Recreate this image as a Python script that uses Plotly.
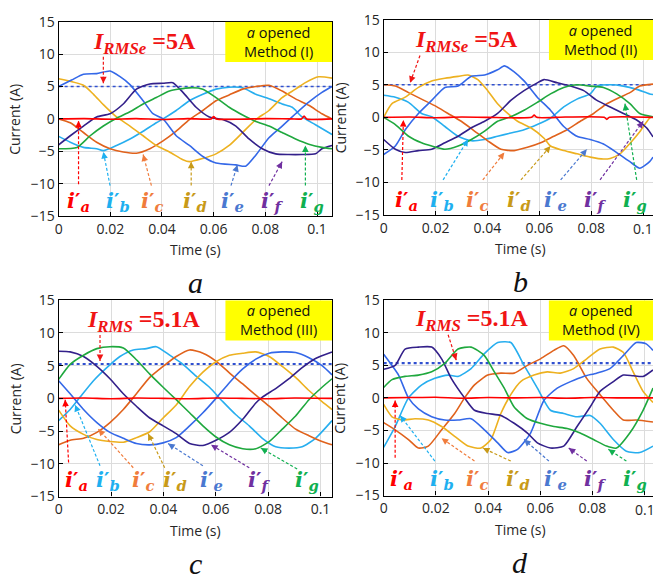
import plotly.graph_objects as go

W, H = 653, 581

# ---------------- data (time in ms, current in A) ----------------
# Panel a  (Method I, I_RMSe = 5 A)
a_t_ia = [0, 10, 20, 30, 40, 50, 59, 60, 61, 70, 80, 90, 94, 95, 96, 105.8]
a_ia   = [0, 0.05, -0.05, 0.05, -0.1, 0.05, 0, 0.35, 0, -0.05, 0.05, 0, 0, 0.45, 0, 0]
a_t_ib = [0, 4.5, 9.6, 14.7, 17.3, 22.4, 27.6, 32.7, 37.8, 40.4, 45.5, 50.6, 55.8, 60.9, 66.0, 71.2, 76.3, 81.4, 86.5, 90.4, 94.2, 99.4, 105.8]
a_ib   = [-2.7, -3.6, -4.4, -4.6, -4.9, -4.1, -3.1, -1.9, -0.6, 0, 1.3, 2.8, 3.8, 4.6, 4.9, 4.8, 3.8, 3.1, 2.3, 1.8, 0.3, -0.9, -2.4]
a_t_ic = [0, 4.5, 9.6, 14.7, 19.9, 25.0, 30.1, 35.3, 40.4, 45.5, 50.6, 55.8, 60.9, 66.0, 71.2, 76.3, 81.4, 86.5, 91.7, 96.8, 101.9, 105.8]
a_ic   = [0, -0.6, -2.1, -3.6, -4.6, -5.1, -5.3, -4.6, -3.4, -1.9, -0.1, 1.3, 2.8, 3.7, 4.6, 5.0, 5.2, 4.3, 3.1, 2.1, 0.8, 0]
a_t_id = [0, 9.6, 13.5, 17.3, 22.4, 27.6, 32.7, 37.8, 42.9, 48.1, 50.6, 55.8, 60.9, 66.0, 71.2, 76.3, 81.4, 86.5, 91.7, 95.5, 100.6, 105.8]
a_id   = [6.2, 5.2, 3.8, 2.2, 0.3, -1.1, -2.6, -4.1, -5.1, -6.3, -6.6, -6.1, -5.4, -4.1, -2.1, -0.1, 1.3, 3.3, 4.6, 5.6, 6.5, 6.3]
a_t_ie = [0, 5.0, 9.6, 14.7, 19.9, 23.5, 27.6, 32.7, 36.5, 40.4, 45.5, 50.6, 55.8, 60.9, 68.6, 72.4, 76.3, 81.4, 86.5, 91.7, 96.8, 101.9, 105.8]
a_ie   = [5.0, 6.0, 6.9, 7.0, 7.4, 6.6, 5.3, 2.8, 0.8, 0, -2.6, -4.1, -5.8, -6.8, -7.1, -7.3, -5.6, -2.9, -1.1, 0.8, 2.6, 4.1, 5.0]
a_t_if = [0, 4.5, 9.6, 14.7, 19.9, 25.0, 30.1, 35.3, 40.4, 44.2, 48.1, 53.2, 58.3, 63.5, 68.6, 73.7, 78.8, 84.0, 89.1, 94.2, 99.4, 101.9, 105.8]
a_if   = [-4.0, -2.6, -1.1, 0.3, 0.8, 2.3, 4.6, 5.4, 5.5, 5.6, 4.1, 1.8, 0.3, -0.1, -1.1, -3.1, -4.6, -5.4, -5.5, -5.5, -5.4, -4.6, -4.1]
a_t_ig = [0, 7.1, 12.2, 17.3, 22.4, 27.6, 32.7, 37.8, 42.9, 50.6, 55.8, 60.9, 66.0, 71.2, 76.3, 81.4, 86.5, 91.7, 96.8, 101.9, 105.8]
a_ig   = [-4.6, -4.4, -2.6, -1.1, 0.1, 1.1, 2.3, 3.3, 4.3, 4.8, 4.6, 3.3, 1.8, 0.6, -0.4, -1.1, -2.1, -3.1, -3.9, -4.4, -4.6]

# Panel b  (Method II, I_RMSe = 5 A)
b_t_ia = [0, 10, 20, 30, 40, 57, 58, 59, 70, 85, 86, 87, 103.8]
b_ia   = [0, 0.05, -0.05, 0.05, 0, 0, 0.35, 0, 0.05, 0, -0.3, 0, 0]
b_t_ib = [0, 4.5, 9.6, 14.6, 18.5, 23.6, 28.7, 33.8, 38.9, 43.9, 49.0, 54.1, 59.2, 64.3, 69.4, 74.5, 79.6, 82.2, 87.3, 92.4, 97.5, 102.5, 103.8]
b_ib   = [3.4, 3.1, 2.3, 0.6, 0.1, -1.4, -2.9, -3.6, -3.4, -2.9, -2.4, -1.9, -1.1, -0.1, 1.6, 2.8, 3.6, 4.8, 5.0, 4.8, 4.3, 3.6, 3.5]
b_t_ic = [0, 4.5, 9.6, 14.6, 19.7, 24.8, 29.9, 35.0, 40.1, 45.2, 50.3, 55.4, 60.5, 65.6, 70.7, 75.8, 80.9, 86.0, 91.1, 94.9, 98.7, 103.8]
b_ic   = [5.0, 4.8, 3.8, 2.8, 1.8, 0.6, -0.6, -2.1, -3.6, -4.9, -5.1, -4.6, -3.9, -2.9, -1.9, -0.6, 0.6, 2.1, 3.1, 3.8, 4.8, 5.1]
b_t_id = [0, 3.2, 8.3, 13.4, 18.5, 23.6, 28.7, 32.5, 36.3, 40.1, 43.9, 47.8, 51.6, 56.7, 61.8, 64.3, 69.4, 74.5, 79.6, 84.7, 87.3, 91.1, 94.9, 98.7, 102.5, 103.8]
b_id   = [0, 2.1, 3.1, 4.6, 5.6, 6.0, 6.3, 6.5, 5.8, 4.1, 2.1, 0.6, -0.6, -1.6, -3.2, -4.4, -5.1, -5.6, -6.1, -6.4, -6.3, -5.6, -4.0, -2.2, -0.1, 0.1]
b_t_ie = [0, 4.5, 8.3, 13.4, 18.5, 23.6, 28.7, 33.8, 38.9, 43.9, 46.5, 50.3, 54.1, 59.2, 64.3, 69.4, 74.5, 79.6, 84.7, 89.8, 94.9, 98.7, 102.5, 103.8]
b_ie   = [-5.7, -4.4, -1.9, 0.6, 2.6, 4.6, 4.8, 6.3, 6.5, 7.3, 7.9, 7.0, 5.6, 3.1, 1.1, -1.4, -2.9, -3.4, -4.1, -5.4, -6.8, -7.8, -6.8, -6.1]
b_t_if = [0, 4.5, 8.3, 13.4, 18.5, 23.6, 28.7, 33.8, 38.9, 43.9, 49.0, 54.1, 59.2, 61.8, 66.9, 72.0, 77.1, 82.2, 87.3, 92.4, 97.5, 101.3, 103.8]
b_if   = [-3.4, -4.9, -5.4, -5.1, -4.9, -3.9, -2.9, -1.6, -0.6, 0.6, 2.6, 4.1, 5.3, 5.8, 5.3, 4.8, 4.1, 2.6, 1.6, 0.6, -0.4, -1.6, -3.0]
b_t_ig = [0, 4.5, 9.6, 14.6, 18.5, 23.6, 28.7, 33.8, 38.9, 43.9, 49.0, 54.1, 59.2, 64.3, 69.4, 74.5, 79.6, 84.7, 89.8, 94.9, 98.7, 103.8]
b_ig   = [0, -1.1, -2.9, -3.9, -4.4, -4.9, -4.4, -3.4, -2.1, -0.6, 0.1, 1.1, 2.3, 3.6, 4.6, 5.0, 4.8, 4.6, 3.6, 2.1, 0.6, 0.1]

# Panel c  (Method III, I_RMS = 5.1 A)
c_t_ia = [0, 10, 20, 30, 40, 50, 60, 70, 80, 90, 104.4]
c_ia   = [0, 0.05, -0.05, 0.05, 0, -0.05, 0.05, 0, -0.05, 0.05, 0]
c_t_ib = [0, 4.4, 8.2, 13.3, 18.4, 23.4, 28.5, 33.5, 37.3, 42.4, 47.5, 52.5, 57.6, 62.7, 67.7, 72.8, 77.8, 82.9, 88.0, 93.0, 98.1, 104.4]
c_ib   = [-3.4, -1.7, 0.2, 2.7, 4.7, 6.4, 7.4, 7.6, 7.9, 6.6, 5.2, 3.4, 1.7, -0.5, -2.5, -4.2, -6.1, -7.4, -7.6, -7.4, -6.1, -3.4]
c_t_ic = [0, 4.4, 9.5, 14.6, 19.6, 24.7, 29.7, 34.8, 39.9, 44.9, 50.0, 55.1, 60.1, 65.2, 70.3, 75.3, 80.4, 85.4, 90.5, 95.6, 100.6, 104.4]
c_ic   = [-7.1, -6.4, -6.1, -5.2, -3.7, -1.7, 0.7, 3.2, 4.9, 6.4, 7.4, 6.9, 5.7, 3.9, 2.2, 0.5, -1.2, -3.0, -4.7, -5.7, -6.6, -7.1]
c_t_id = [0, 4.4, 9.5, 14.6, 19.6, 24.7, 29.7, 34.8, 39.9, 44.9, 50.0, 55.1, 60.1, 65.2, 70.3, 75.3, 80.4, 85.4, 90.5, 95.6, 100.6, 104.4]
c_id   = [-1.8, -4.2, -5.5, -6.3, -6.6, -6.7, -6.0, -5.1, -3.0, -1.0, 1.8, 4.0, 5.6, 6.6, 6.9, 7.1, 6.4, 4.9, 3.2, 1.2, -0.5, -1.7]
c_t_ie = [0, 4.4, 9.5, 14.6, 19.6, 24.7, 29.7, 34.8, 39.9, 44.9, 50.0, 55.1, 60.1, 65.2, 70.3, 75.3, 80.4, 85.4, 90.5, 95.6, 100.6, 104.4]
c_ie   = [2.7, 0.7, -1.7, -3.7, -5.2, -6.1, -6.9, -7.1, -6.8, -6.0, -4.2, -2.2, 0, 2.4, 4.5, 6.0, 6.9, 7.1, 7.0, 6.2, 5.0, 3.6]
c_t_if = [0, 4.4, 9.5, 14.6, 19.6, 24.7, 29.7, 34.8, 39.9, 44.9, 50.0, 55.1, 60.1, 65.2, 70.3, 75.3, 77.8, 82.9, 88.0, 93.0, 98.1, 104.4]
c_if   = [7.2, 7.1, 6.4, 4.9, 3.0, 0.7, -1.2, -3.0, -4.2, -5.4, -6.9, -7.2, -6.4, -5.2, -3.2, -0.7, 0.2, 1.5, 3.0, 4.7, 6.1, 7.1]
c_t_ig = [0, 4.4, 9.5, 14.6, 19.6, 24.7, 29.7, 34.8, 39.9, 44.9, 50.0, 55.1, 60.1, 65.2, 70.3, 75.3, 80.4, 85.4, 90.5, 95.6, 100.6, 104.4]
c_ig   = [2.9, 5.2, 6.6, 7.6, 7.9, 7.7, 5.9, 3.7, 1.7, -0.2, -2.2, -4.2, -5.9, -7.1, -7.7, -7.7, -6.6, -4.7, -2.7, -0.2, 1.7, 3.0]

# Panel d  (Method IV, I_RMS = 5.1 A)
d_t_ia = [0, 10, 20, 30, 40, 50, 60, 70, 80, 90, 103.2]
d_ia   = [0, 0.05, 0.1, -0.05, 0.05, 0, 0.05, -0.05, 0.05, 0, 0]
d_t_ib = [0, 4.4, 9.5, 14.6, 19.6, 24.7, 28.5, 33.5, 38.6, 43.7, 48.7, 53.8, 58.9, 63.9, 69.0, 74.1, 79.1, 82.9, 88.0, 93.0, 98.1, 103.2]
d_ib   = [-7.6, -4.4, 0, 2.0, 3.0, 3.5, 3.3, 4.5, 6.8, 8.5, 8.5, 5.0, 1.5, -1.9, -2.4, -2.9, -2.7, -3.9, -6.4, -8.2, -8.4, -7.4]
d_t_ic = [0, 4.4, 9.5, 13.3, 17.1, 22.2, 27.2, 31.0, 34.8, 39.9, 44.9, 50.0, 55.1, 60.1, 65.2, 69.0, 72.8, 77.8, 82.9, 88.0, 91.8, 96.8, 103.2]
d_ic   = [-3.8, -4.9, -6.4, -7.7, -7.4, -4.9, -2.4, 0, 2.0, 3.5, 3.8, 3.8, 5.0, 6.0, 7.3, 8.0, 6.5, 3.0, 0.5, -1.9, -3.4, -3.4, -3.7]
d_t_id = [0, 3.2, 7.0, 12.0, 17.1, 22.2, 27.2, 32.3, 37.3, 41.1, 44.9, 48.7, 52.5, 57.6, 62.7, 67.7, 72.8, 77.8, 82.9, 88.0, 91.8, 95.6, 99.4, 103.2]
d_id   = [-1.0, -2.9, -3.4, -3.2, -3.4, -4.4, -5.9, -7.4, -7.7, -6.4, -2.4, 0.5, 2.5, 3.5, 4.0, 3.8, 4.5, 6.0, 7.5, 7.8, 7.0, 4.0, 1.0, -0.7]
d_t_ie = [0, 5.7, 9.5, 13.3, 18.4, 23.4, 28.5, 33.5, 38.6, 43.7, 47.5, 51.3, 56.3, 61.4, 66.5, 71.6, 76.6, 81.6, 86.7, 91.8, 96.8, 100.6, 103.2]
d_ie   = [6.7, 3.5, 0, -1.7, -2.9, -3.4, -3.4, -3.2, -4.9, -6.9, -8.4, -7.9, -5.4, -0.4, 1.5, 2.5, 3.3, 3.8, 4.5, 6.5, 8.5, 8.3, 7.3]
d_t_if = [0, 4.4, 8.2, 13.3, 18.4, 22.2, 25.9, 31.0, 34.8, 39.9, 44.9, 50.0, 55.1, 58.9, 63.9, 69.0, 74.1, 79.1, 82.9, 88.0, 91.8, 95.6, 99.4, 103.2]
d_if   = [4.4, 5.0, 7.5, 7.8, 7.8, 6.0, 3.0, 0, -1.9, -2.4, -2.7, -3.9, -5.4, -6.9, -7.7, -7.4, -4.4, -1.4, 1.0, 2.5, 3.5, 3.4, 3.3, 4.3]
d_t_ig = [0, 3.2, 8.2, 13.3, 18.4, 23.4, 28.5, 33.5, 38.6, 42.4, 46.2, 50.0, 55.1, 60.1, 65.2, 70.3, 75.3, 80.4, 85.4, 89.2, 94.3, 99.4, 103.2]
d_ig   = [1.6, 2.8, 3.3, 3.5, 4.0, 5.3, 7.5, 7.8, 6.5, 4.0, 1.5, -1.4, -3.2, -3.9, -4.4, -4.7, -5.4, -6.4, -7.4, -7.7, -5.4, -1.9, 1.5]

rms_text = ["<b><i>I</i><sub><i>RMSe</i></sub> =5A</b>", "<b><i>I</i><sub><i>RMSe</i></sub> =5A</b>",
            "<b><i>I</i><sub><i>RMS</i></sub> =5.1A</b>", "<b><i>I</i><sub><i>RMS</i></sub> =5.1A</b>"]
rms_line = [5.0, 5.0, 5.25, 5.35]
method_text = ["Method (I)", "Method (II)", "Method (III)", "Method (IV)"]
panel_letters = ["a", "b", "c", "d"]
x_ticks = [0, 0.02, 0.04, 0.06, 0.08, 0.1]
x_tick_text = ["0", "0.02", "0.04", "0.06", "0.08", "0.1"]
y_ticks = [-15, -10, -5, 0, 5, 10, 15]
phases = ["a", "b", "c", "d", "e", "f", "g"]

panel_data = [
    [(a_t_ia, a_ia), (a_t_ib, a_ib), (a_t_ic, a_ic), (a_t_id, a_id), (a_t_ie, a_ie), (a_t_if, a_if), (a_t_ig, a_ig)],
    [(b_t_ia, b_ia), (b_t_ib, b_ib), (b_t_ic, b_ic), (b_t_id, b_id), (b_t_ie, b_ie), (b_t_if, b_if), (b_t_ig, b_ig)],
    [(c_t_ia, c_ia), (c_t_ib, c_ib), (c_t_ic, c_ic), (c_t_id, c_id), (c_t_ie, c_ie), (c_t_if, c_if), (c_t_ig, c_ig)],
    [(d_t_ia, d_ia), (d_t_ib, d_ib), (d_t_ic, d_ic), (d_t_id, d_id), (d_t_ie, d_ie), (d_t_if, d_if), (d_t_ig, d_ig)],
]

# ---------------- styling / layout ----------------
line_colors = ["#FF0000", "#27AEEF", "#E0621C", "#EDB120", "#3468E8", "#33208A", "#1FA83E"]
label_colors = ["#FF0000", "#1EB0F0", "#F07C3C", "#C89A18", "#4A78D0", "#7030A0", "#10B050"]
draw_order = [1, 2, 3, 4, 5, 6, 0]

dom_x = [(0.0842, 0.5054), (0.585, 1.0), (0.0842, 0.5054), (0.585, 1.0)]
dom_y = [(0.6334, 0.979), (0.6351, 0.9828), (0.1343, 0.4836), (0.136, 0.4836)]
x_rng = [(0, 0.1058), (0, 0.1038), (0, 0.1044), (0, 0.1032)]
panel_w = 0.4212

# annotation placements (data coords, per panel)
title_pos = [(0.0333, 11.75), (0.0318, 11.75), (0.0323, 11.8), (0.0335, 12.0)]
title_arrow = [((0.0173, 9.6), (0.0173, 5.5)), ((0.0140, 9.5), (0.0102, 5.3)),
               ((0.0158, 9.7), (0.0158, 5.7)), ((0.0247, 9.7), (0.0278, 5.8))]
box_rng = [(0.0645, 0.1058, 8.8, 15), (0.0637, 0.1038, 8.8, 15), (0.0637, 0.1044, 8.85, 15), (0.0633, 0.1032, 8.8, 15)]
label_x = [[0.0077, 0.0231, 0.0365, 0.0526, 0.0673, 0.0827, 0.0980],
           [0.0089, 0.0223, 0.0363, 0.0522, 0.0662, 0.0815, 0.0968],
           [0.0070, 0.0190, 0.0323, 0.0443, 0.0582, 0.0766, 0.0949],
           [0.0070, 0.0222, 0.0361, 0.0513, 0.0658, 0.0810, 0.0962]]
label_y = [-12.8, -12.8, -12.6, -12.5]
arrows = [
    [((0.0077, -10.1), (0.0077, -0.3)), ((0.0199, -10.3), (0.0173, -5.1)), ((0.0359, -10.3), (0.0327, -5.5)),
     ((0.0513, -10.3), (0.0513, -6.6)), ((0.0667, -10.3), (0.0692, -7.1)), ((0.0814, -10.3), (0.0865, -6.6)),
     ((0.0955, -10.3), (0.0955, -4.1))],
    [((0.0070, -9.6), (0.0076, -0.4)), ((0.0229, -9.6), (0.0325, -3.4)), ((0.0382, -9.6), (0.0465, -5.4)),
     ((0.0529, -9.6), (0.0643, -4.4)), ((0.0682, -9.6), (0.0783, -4.9)), ((0.0834, -9.6), (0.1000, -0.6)),
     ((0.0975, -9.6), (0.0930, 2.1))],
    [((0.0038, -9.8), (0.0025, -0.2)), ((0.0158, -10.3), (0.0063, -1.0)), ((0.0285, -10.6), (0.0152, -4.7)),
     ((0.0405, -10.6), (0.0342, -5.4)), ((0.0551, -10.3), (0.0418, -6.9)), ((0.0728, -10.6), (0.0582, -7.1)),
     ((0.0911, -10.8), (0.0772, -7.6))],
    [((0.0044, -9.2), (0.0044, -0.4)), ((0.0196, -9.7), (0.0063, -2.7)), ((0.0348, -9.7), (0.0222, -6.2)),
     ((0.0487, -9.7), (0.0380, -7.7)), ((0.0633, -9.7), (0.0538, -6.4)), ((0.0778, -9.7), (0.0709, -7.7)),
     ((0.0930, -9.7), (0.0861, -7.9))],
]

fig = go.Figure()
shapes, annos = [], []
TICKFONT = dict(family="Open Sans, Liberation Sans, sans-serif", size=14, color="#262626")


def px_scale(k):
    sx = (dom_x[k][1] - dom_x[k][0]) * W / (x_rng[k][1] - x_rng[k][0])
    sy = (dom_y[k][1] - dom_y[k][0]) * H / 30.0
    return sx, sy


def add_arrow(k, p0, p1, color, dash="3px,2px", width=1.2):
    xr, yr = ("x" if k == 0 else f"x{k+1}"), ("y" if k == 0 else f"y{k+1}")
    shapes.append(dict(type="line", xref=xr, yref=yr, x0=p0[0], y0=p0[1], x1=p1[0], y1=p1[1],
                       line=dict(color=color, width=width, dash=dash), layer="above"))
    sx, sy = px_scale(k)
    dx = (p1[0] - p0[0]) * sx
    dy = -(p1[1] - p0[1]) * sy
    L = (dx * dx + dy * dy) ** 0.5 or 1.0
    annos.append(dict(x=p1[0], y=p1[1], xref=xr, yref=yr, text="", showarrow=True,
                      ax=-dx / L * 7, ay=-dy / L * 7, arrowhead=2, arrowsize=1.1,
                      arrowwidth=1.2, arrowcolor=color))


for k in range(4):
    xa = "x" if k == 0 else f"x{k+1}"
    ya = "y" if k == 0 else f"y{k+1}"
    sfx = "" if k == 0 else str(k + 1)
    right_col = (k % 2 == 1)
    fig.add_trace(go.Scatter(x=[x_rng[k][0], x_rng[k][1]], y=[rms_line[k], rms_line[k]], mode="lines",
                             line=dict(color="#3050D0", width=1.6 if k < 2 else 2.2, dash="dot"),
                             xaxis=xa, yaxis=ya, showlegend=False, hoverinfo="skip"))
    for j in draw_order:
        t, v = panel_data[k][j]
        fig.add_trace(go.Scatter(x=[ti / 1000.0 for ti in t], y=v, mode="lines",
                                 line=dict(color=line_colors[j], width=1.6, shape="spline", smoothing=0.6),
                                 xaxis=xa, yaxis=ya, showlegend=False, name="i'" + phases[j]))
    ttext = list(x_tick_text)
    if right_col:
        ttext[-1] = ""   # edge label drawn as annotation (cut by the page edge like the original)
    fig.layout["xaxis" + sfx] = dict(domain=list(dom_x[k]), range=list(x_rng[k]), anchor=ya,
                                     tickvals=x_ticks, ticktext=ttext, tickfont=TICKFONT,
                                     showgrid=True, gridcolor="#DCDCDC", gridwidth=1, zeroline=False,
                                     showline=True, linecolor="#000000", linewidth=1.2, mirror=True,
                                     ticks="inside", ticklen=4, tickcolor="#000000")
    fig.layout["yaxis" + sfx] = dict(domain=list(dom_y[k]), range=[-15, 15], anchor=xa,
                                     tickvals=y_ticks, tickfont=TICKFONT,
                                     showgrid=True, gridcolor="#DCDCDC", gridwidth=1, zeroline=False,
                                     showline=True, linecolor="#000000", linewidth=1.2, mirror=not right_col,
                                     ticks="inside", ticklen=4, tickcolor="#000000")
    if right_col:
        annos.append(dict(x=x_ticks[-1], y=dom_y[k][0] - 14.0 / H, xref=xa, yref="paper",
                          xanchor="center", yanchor="middle", showarrow=False,
                          text=x_tick_text[-1], font=TICKFONT))
    bx0, bx1, by0, by1 = box_rng[k]
    shapes.append(dict(type="rect", xref=xa, yref=ya, x0=bx0, x1=bx1, y0=by0, y1=by1,
                       fillcolor="#FFFF00", line=dict(width=0), layer="above"))
    annos.append(dict(x=(bx0 + bx1) / 2, y=(by0 + by1) / 2, xref=xa, yref=ya, showarrow=False,
                      xanchor="center", yanchor="middle",
                      text="<i>a</i> opened<br>" + method_text[k],
                      font=dict(family="Open Sans, sans-serif", size=14.5, color="#111111")))
    annos.append(dict(x=title_pos[k][0], y=title_pos[k][1], xref=xa, yref=ya, showarrow=False,
                      xanchor="center", yanchor="middle",
                      text=rms_text[k], font=dict(family="Liberation Serif, serif", size=24, color="#F01414")))
    add_arrow(k, title_arrow[k][0], title_arrow[k][1], "#F01414")
    for j in range(7):
        annos.append(dict(x=label_x[k][j], y=label_y[k], xref=xa, yref=ya, showarrow=False,
                          xanchor="center", yanchor="middle",
                          text="<b><i>i</i>′</b><sub><b><i>" + phases[j] + "</i></b></sub>",
                          font=dict(family="DejaVu Serif, serif", size=21, color=label_colors[j])))
        add_arrow(k, arrows[k][j][0], arrows[k][j][1], label_colors[j])
    cx = dom_x[k][0] + panel_w / 2
    annos.append(dict(x=cx, y=dom_y[k][0] - 35.0 / H, xref="paper", yref="paper",
                      xanchor="center", yanchor="middle",
                      showarrow=False, text="Time (s)", font=TICKFONT))
    annos.append(dict(x=dom_x[k][0] - 44.0 / W, y=(dom_y[k][0] + dom_y[k][1]) / 2, xref="paper", yref="paper",
                      xanchor="center", yanchor="middle",
                      showarrow=False, text="Current (A)", textangle=-90, font=TICKFONT))
    annos.append(dict(x=cx, y=dom_y[k][0] - 69.0 / H, xref="paper", yref="paper",
                      xanchor="center", yanchor="middle",
                      showarrow=False, text="<i>" + panel_letters[k] + "</i>",
                      font=dict(family="Liberation Serif, serif", size=30, color="#111111")))

fig.update_layout(width=W, height=H, margin=dict(l=0, r=0, t=0, b=0),
                  paper_bgcolor="white", plot_bgcolor="white",
                  shapes=shapes, annotations=annos, showlegend=False)

fig.write_html("out.html", config={"displayModeBar": False},
               post_script="document.body.style.margin='0';document.body.style.overflow='hidden';")
